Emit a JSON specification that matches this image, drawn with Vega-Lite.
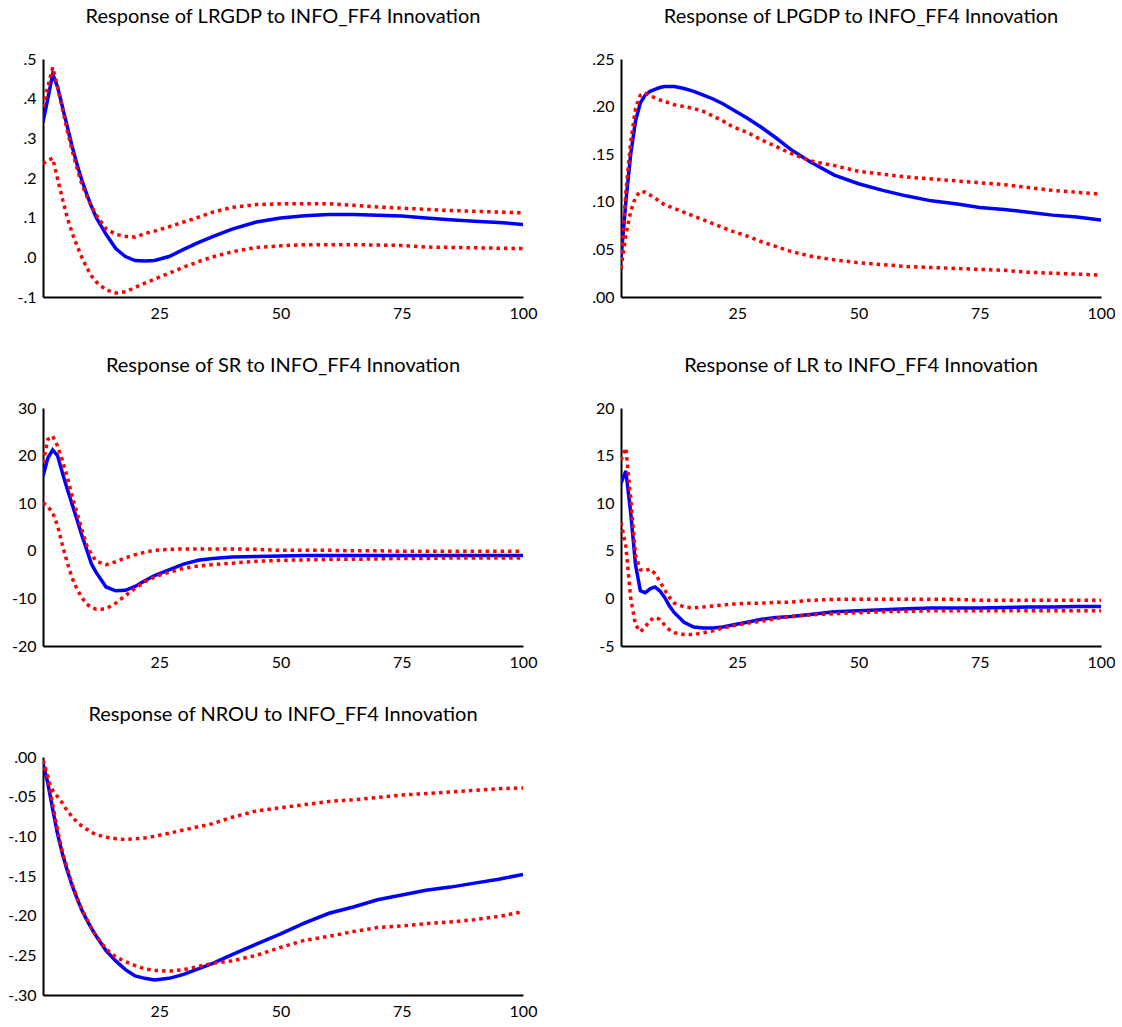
{
"$schema": "https://vega.github.io/schema/vega-lite/v6.json",
"padding": {"left": 7, "top": 7, "right": 0, "bottom": 0},
"background": "white",
"datasets": {
"lrgdp": [
{"t":1,"m":0.341,"hi":0.379,"lo":0.236},{"t":2,"m":0.40,"hi":0.43,"lo":0.245},{"t":3,"m":0.462,"hi":0.479,"lo":0.25},{"t":4,"m":0.43,"hi":0.43,"lo":0.198},{"t":5,"m":0.38,"hi":0.375,"lo":0.148},{"t":6,"m":0.33,"hi":0.32,"lo":0.10},{"t":7,"m":0.28,"hi":0.27,"lo":0.062},{"t":8,"m":0.235,"hi":0.225,"lo":0.03},{"t":9,"m":0.195,"hi":0.185,"lo":0.0},{"t":10,"m":0.16,"hi":0.155,"lo":-0.025},{"t":11,"m":0.128,"hi":0.128,"lo":-0.047},{"t":12,"m":0.10,"hi":0.106,"lo":-0.062},{"t":14,"m":0.058,"hi":0.072,"lo":-0.082},{"t":16,"m":0.022,"hi":0.058,"lo":-0.09},{"t":18,"m":0.002,"hi":0.053,"lo":-0.087},{"t":20,"m":-0.008,"hi":0.051,"lo":-0.076},{"t":22,"m":-0.009,"hi":0.06,"lo":-0.065},{"t":24,"m":-0.008,"hi":0.066,"lo":-0.055},{"t":27,"m":0.002,"hi":0.077,"lo":-0.04},{"t":30,"m":0.02,"hi":0.089,"lo":-0.025},{"t":33,"m":0.037,"hi":0.101,"lo":-0.011},{"t":36,"m":0.052,"hi":0.114,"lo":0.001},{"t":40,"m":0.071,"hi":0.126,"lo":0.014},{"t":45,"m":0.089,"hi":0.133,"lo":0.025},{"t":50,"m":0.099,"hi":0.135,"lo":0.029},{"t":55,"m":0.105,"hi":0.135,"lo":0.032},{"t":60,"m":0.108,"hi":0.135,"lo":0.032},{"t":65,"m":0.108,"hi":0.131,"lo":0.032},{"t":70,"m":0.106,"hi":0.127,"lo":0.031},{"t":75,"m":0.104,"hi":0.124,"lo":0.03},{"t":80,"m":0.099,"hi":0.121,"lo":0.026},{"t":85,"m":0.095,"hi":0.118,"lo":0.025},{"t":90,"m":0.091,"hi":0.116,"lo":0.024},{"t":95,"m":0.088,"hi":0.114,"lo":0.023},{"t":100,"m":0.083,"hi":0.112,"lo":0.022}
],
"lpgdp": [
{"t":1,"m":0.04,"hi":0.03,"lo":0.03},{"t":2,"m":0.10,"hi":0.11,"lo":0.065},{"t":3,"m":0.15,"hi":0.163,"lo":0.09},{"t":4,"m":0.185,"hi":0.198,"lo":0.105},{"t":5,"m":0.204,"hi":0.212,"lo":0.111},{"t":6,"m":0.212,"hi":0.214,"lo":0.11},{"t":7,"m":0.216,"hi":0.212,"lo":0.107},{"t":8,"m":0.218,"hi":0.209,"lo":0.104},{"t":9,"m":0.22,"hi":0.207,"lo":0.10},{"t":10,"m":0.221,"hi":0.205,"lo":0.097},{"t":11,"m":0.221,"hi":0.204,"lo":0.095},{"t":12,"m":0.221,"hi":0.202,"lo":0.093},{"t":14,"m":0.219,"hi":0.20,"lo":0.089},{"t":16,"m":0.216,"hi":0.198,"lo":0.085},{"t":18,"m":0.212,"hi":0.195,"lo":0.081},{"t":20,"m":0.208,"hi":0.19,"lo":0.077},{"t":22,"m":0.203,"hi":0.185,"lo":0.073},{"t":24,"m":0.197,"hi":0.179,"lo":0.069},{"t":27,"m":0.188,"hi":0.173,"lo":0.064},{"t":30,"m":0.178,"hi":0.165,"lo":0.058},{"t":33,"m":0.167,"hi":0.158,"lo":0.053},{"t":36,"m":0.155,"hi":0.151,"lo":0.048},{"t":40,"m":0.142,"hi":0.143,"lo":0.043},{"t":45,"m":0.128,"hi":0.138,"lo":0.039},{"t":50,"m":0.119,"hi":0.132,"lo":0.036},{"t":55,"m":0.112,"hi":0.129,"lo":0.034},{"t":60,"m":0.106,"hi":0.126,"lo":0.032},{"t":65,"m":0.101,"hi":0.124,"lo":0.031},{"t":70,"m":0.098,"hi":0.122,"lo":0.03},{"t":75,"m":0.094,"hi":0.12,"lo":0.029},{"t":80,"m":0.092,"hi":0.118,"lo":0.028},{"t":85,"m":0.089,"hi":0.115,"lo":0.026},{"t":90,"m":0.086,"hi":0.112,"lo":0.025},{"t":95,"m":0.084,"hi":0.11,"lo":0.024},{"t":100,"m":0.081,"hi":0.108,"lo":0.023}
],
"sr": [
{"t":1,"m":15.7,"hi":18.5,"lo":10.1},{"t":2,"m":19.5,"hi":23.4,"lo":9.3},{"t":3,"m":21.2,"hi":24.1,"lo":8.0},{"t":4,"m":20.0,"hi":22.0,"lo":5.3},{"t":5,"m":16.4,"hi":19.0,"lo":1.2},{"t":6,"m":13.0,"hi":15.5,"lo":-2.5},{"t":7,"m":9.8,"hi":11.5,"lo":-5.7},{"t":8,"m":6.6,"hi":8.0,"lo":-8.0},{"t":9,"m":3.3,"hi":4.5,"lo":-9.8},{"t":10,"m":0.3,"hi":1.2,"lo":-11.2},{"t":11,"m":-2.8,"hi":-0.8,"lo":-11.9},{"t":12,"m":-4.6,"hi":-2.2,"lo":-12.3},{"t":14,"m":-7.6,"hi":-2.9,"lo":-12.2},{"t":16,"m":-8.4,"hi":-2.3,"lo":-11.0},{"t":18,"m":-8.3,"hi":-1.5,"lo":-9.4},{"t":20,"m":-7.5,"hi":-0.8,"lo":-7.9},{"t":22,"m":-6.3,"hi":-0.3,"lo":-6.5},{"t":24,"m":-5.2,"hi":0.1,"lo":-5.5},{"t":27,"m":-4.0,"hi":0.3,"lo":-4.5},{"t":30,"m":-2.8,"hi":0.4,"lo":-3.7},{"t":33,"m":-2.0,"hi":0.4,"lo":-3.2},{"t":36,"m":-1.6,"hi":0.4,"lo":-2.9},{"t":40,"m":-1.3,"hi":0.4,"lo":-2.6},{"t":45,"m":-1.2,"hi":0.3,"lo":-2.2},{"t":50,"m":-1.1,"hi":0.1,"lo":-2.0},{"t":55,"m":-1.0,"hi":0.1,"lo":-1.9},{"t":60,"m":-1.0,"hi":0.1,"lo":-1.8},{"t":65,"m":-1.0,"hi":0.0,"lo":-1.8},{"t":70,"m":-1.0,"hi":0.0,"lo":-1.7},{"t":75,"m":-1.0,"hi":-0.1,"lo":-1.6},{"t":80,"m":-1.0,"hi":-0.1,"lo":-1.6},{"t":85,"m":-1.0,"hi":-0.1,"lo":-1.5},{"t":90,"m":-1.0,"hi":-0.1,"lo":-1.5},{"t":95,"m":-1.0,"hi":-0.1,"lo":-1.5},{"t":100,"m":-1.0,"hi":-0.1,"lo":-1.5}
],
"lr": [
{"t":1,"m":12.1,"hi":14.5,"lo":8.0},{"t":2,"m":13.4,"hi":15.8,"lo":5.5},{"t":3,"m":9.0,"hi":10.5,"lo":0.0},{"t":4,"m":3.5,"hi":4.5,"lo":-2.8},{"t":5,"m":0.8,"hi":3.0,"lo":-3.5},{"t":6,"m":0.6,"hi":2.9,"lo":-3.0},{"t":7,"m":1.0,"hi":3.1,"lo":-2.3},{"t":8,"m":1.2,"hi":2.6,"lo":-2.0},{"t":9,"m":0.8,"hi":1.8,"lo":-2.2},{"t":10,"m":0.1,"hi":0.9,"lo":-2.8},{"t":11,"m":-0.8,"hi":0.1,"lo":-3.3},{"t":12,"m":-1.5,"hi":-0.5,"lo":-3.6},{"t":14,"m":-2.5,"hi":-0.9,"lo":-3.8},{"t":16,"m":-3.0,"hi":-1.0,"lo":-3.8},{"t":18,"m":-3.1,"hi":-0.9,"lo":-3.6},{"t":20,"m":-3.1,"hi":-0.8,"lo":-3.4},{"t":22,"m":-3.0,"hi":-0.7,"lo":-3.1},{"t":24,"m":-2.8,"hi":-0.6,"lo":-2.9},{"t":27,"m":-2.5,"hi":-0.5,"lo":-2.6},{"t":30,"m":-2.2,"hi":-0.5,"lo":-2.4},{"t":33,"m":-2.0,"hi":-0.4,"lo":-2.1},{"t":36,"m":-1.9,"hi":-0.4,"lo":-1.9},{"t":40,"m":-1.7,"hi":-0.2,"lo":-1.75},{"t":45,"m":-1.4,"hi":-0.1,"lo":-1.6},{"t":50,"m":-1.3,"hi":-0.1,"lo":-1.5},{"t":55,"m":-1.2,"hi":-0.1,"lo":-1.4},{"t":60,"m":-1.1,"hi":-0.1,"lo":-1.35},{"t":65,"m":-1.0,"hi":-0.1,"lo":-1.3},{"t":70,"m":-1.0,"hi":-0.1,"lo":-1.3},{"t":75,"m":-1.0,"hi":-0.2,"lo":-1.3},{"t":80,"m":-0.95,"hi":-0.2,"lo":-1.3},{"t":85,"m":-0.9,"hi":-0.2,"lo":-1.3},{"t":90,"m":-0.9,"hi":-0.2,"lo":-1.3},{"t":95,"m":-0.85,"hi":-0.2,"lo":-1.3},{"t":100,"m":-0.85,"hi":-0.2,"lo":-1.3}
],
"nrou": [
{"t":1,"m":-0.008,"hi":-0.004,"lo":-0.004},{"t":2,"m":-0.033,"hi":-0.028,"lo":-0.025},{"t":3,"m":-0.066,"hi":-0.042,"lo":-0.06},{"t":4,"m":-0.097,"hi":-0.05,"lo":-0.092},{"t":5,"m":-0.122,"hi":-0.058,"lo":-0.12},{"t":6,"m":-0.143,"hi":-0.068,"lo":-0.14},{"t":7,"m":-0.162,"hi":-0.075,"lo":-0.16},{"t":8,"m":-0.178,"hi":-0.082,"lo":-0.177},{"t":9,"m":-0.193,"hi":-0.087,"lo":-0.192},{"t":10,"m":-0.205,"hi":-0.091,"lo":-0.204},{"t":11,"m":-0.216,"hi":-0.095,"lo":-0.216},{"t":12,"m":-0.226,"hi":-0.098,"lo":-0.226},{"t":14,"m":-0.244,"hi":-0.101,"lo":-0.242},{"t":16,"m":-0.257,"hi":-0.103,"lo":-0.252},{"t":18,"m":-0.268,"hi":-0.104,"lo":-0.258},{"t":20,"m":-0.276,"hi":-0.103,"lo":-0.263},{"t":22,"m":-0.279,"hi":-0.102,"lo":-0.267},{"t":24,"m":-0.281,"hi":-0.10,"lo":-0.269},{"t":27,"m":-0.279,"hi":-0.096,"lo":-0.27},{"t":30,"m":-0.274,"hi":-0.092,"lo":-0.268},{"t":33,"m":-0.267,"hi":-0.088,"lo":-0.264},{"t":36,"m":-0.26,"hi":-0.084,"lo":-0.26},{"t":40,"m":-0.249,"hi":-0.076,"lo":-0.257},{"t":45,"m":-0.236,"hi":-0.068,"lo":-0.25},{"t":50,"m":-0.223,"hi":-0.064,"lo":-0.24},{"t":55,"m":-0.209,"hi":-0.06,"lo":-0.231},{"t":60,"m":-0.197,"hi":-0.056,"lo":-0.226},{"t":65,"m":-0.189,"hi":-0.054,"lo":-0.22},{"t":70,"m":-0.18,"hi":-0.051,"lo":-0.215},{"t":75,"m":-0.174,"hi":-0.048,"lo":-0.213},{"t":80,"m":-0.168,"hi":-0.046,"lo":-0.21},{"t":85,"m":-0.164,"hi":-0.044,"lo":-0.208},{"t":90,"m":-0.159,"hi":-0.042,"lo":-0.205},{"t":95,"m":-0.154,"hi":-0.04,"lo":-0.201},{"t":100,"m":-0.148,"hi":-0.039,"lo":-0.195}
]
},
"columns": 2,
"bounds": "flush",
"spacing": {"row": 111, "column": 98},
"concat": [
{
"title": "Response of LRGDP to INFO_FF4 Innovation",
"width": 480, "height": 238,
"data": {"name": "lrgdp"},
"encoding": {"x": {"field": "t", "type": "quantitative", "title": null, "scale": {"domain": [1, 100], "nice": false, "zero": false}, "axis": {"values": [25, 50, 75, 100], "tickCount": 20, "labelFlush": false, "labelOverlap": false}}},
"layer": [
{"data": {"values": [{}]}, "mark": {"type": "rule", "color": "#222222", "strokeWidth": 1}, "encoding": {"x": {"datum": 1}, "x2": {"datum": 100}, "y": {"datum": 0}}},
{"mark": {"type": "line", "color": "#0000FF", "strokeWidth": 3.5, "clip": true}, "encoding": {"y": {"field": "m", "type": "quantitative", "title": null, "scale": {"domain": [-0.1, 0.5], "nice": false, "zero": false}, "axis": {"values": [-0.1, 0, 0.1, 0.2, 0.3, 0.4, 0.5], "tickCount": 20, "labelOverlap": false, "labelExpr": "replace(replace(format(datum.value, '.1f'), '\u2212', '-'), '0.', '.')"}}}},
{"mark": {"type": "line", "color": "#FF0000", "strokeWidth": 3.5, "strokeDash": [3.5, 4], "clip": true}, "encoding": {"y": {"field": "lo", "type": "quantitative", "title": null}}},
{"mark": {"type": "line", "color": "#FF0000", "strokeWidth": 3.5, "strokeDash": [3.5, 4], "clip": true}, "encoding": {"y": {"field": "hi", "type": "quantitative", "title": null}}}
]
},
{
"title": "Response of LPGDP to INFO_FF4 Innovation",
"width": 480, "height": 238,
"data": {"name": "lpgdp"},
"encoding": {"x": {"field": "t", "type": "quantitative", "title": null, "scale": {"domain": [1, 100], "nice": false, "zero": false}, "axis": {"values": [25, 50, 75, 100], "tickCount": 20, "labelFlush": false, "labelOverlap": false}}},
"layer": [
{"mark": {"type": "line", "color": "#0000FF", "strokeWidth": 3.5, "clip": true}, "encoding": {"y": {"field": "m", "type": "quantitative", "title": null, "scale": {"domain": [0, 0.25], "nice": false, "zero": false}, "axis": {"values": [0, 0.05, 0.1, 0.15, 0.2, 0.25], "tickCount": 20, "labelOverlap": false, "labelExpr": "replace(replace(format(datum.value, '.2f'), '\u2212', '-'), '0.', '.')"}}}},
{"mark": {"type": "line", "color": "#FF0000", "strokeWidth": 3.5, "strokeDash": [3.5, 4], "clip": true}, "encoding": {"y": {"field": "lo", "type": "quantitative", "title": null}}},
{"mark": {"type": "line", "color": "#FF0000", "strokeWidth": 3.5, "strokeDash": [3.5, 4], "clip": true}, "encoding": {"y": {"field": "hi", "type": "quantitative", "title": null}}}
]
},
{
"title": "Response of SR to INFO_FF4 Innovation",
"width": 480, "height": 238,
"data": {"name": "sr"},
"encoding": {"x": {"field": "t", "type": "quantitative", "title": null, "scale": {"domain": [1, 100], "nice": false, "zero": false}, "axis": {"values": [25, 50, 75, 100], "tickCount": 20, "labelFlush": false, "labelOverlap": false}}},
"layer": [
{"data": {"values": [{}]}, "mark": {"type": "rule", "color": "#222222", "strokeWidth": 1}, "encoding": {"x": {"datum": 1}, "x2": {"datum": 100}, "y": {"datum": 0}}},
{"mark": {"type": "line", "color": "#0000FF", "strokeWidth": 3.5, "clip": true}, "encoding": {"y": {"field": "m", "type": "quantitative", "title": null, "scale": {"domain": [-20, 30], "nice": false, "zero": false}, "axis": {"values": [-20, -10, 0, 10, 20, 30], "tickCount": 20, "labelOverlap": false, "labelExpr": "replace(format(datum.value, 'd'), '\u2212', '-')"}}}},
{"mark": {"type": "line", "color": "#FF0000", "strokeWidth": 3.5, "strokeDash": [3.5, 4], "clip": true}, "encoding": {"y": {"field": "lo", "type": "quantitative", "title": null}}},
{"mark": {"type": "line", "color": "#FF0000", "strokeWidth": 3.5, "strokeDash": [3.5, 4], "clip": true}, "encoding": {"y": {"field": "hi", "type": "quantitative", "title": null}}}
]
},
{
"title": "Response of LR to INFO_FF4 Innovation",
"width": 480, "height": 238,
"data": {"name": "lr"},
"encoding": {"x": {"field": "t", "type": "quantitative", "title": null, "scale": {"domain": [1, 100], "nice": false, "zero": false}, "axis": {"values": [25, 50, 75, 100], "tickCount": 20, "labelFlush": false, "labelOverlap": false}}},
"layer": [
{"data": {"values": [{}]}, "mark": {"type": "rule", "color": "#222222", "strokeWidth": 1}, "encoding": {"x": {"datum": 1}, "x2": {"datum": 100}, "y": {"datum": 0}}},
{"mark": {"type": "line", "color": "#0000FF", "strokeWidth": 3.5, "clip": true}, "encoding": {"y": {"field": "m", "type": "quantitative", "title": null, "scale": {"domain": [-5, 20], "nice": false, "zero": false}, "axis": {"values": [-5, 0, 5, 10, 15, 20], "tickCount": 20, "labelOverlap": false, "labelExpr": "replace(format(datum.value, 'd'), '\u2212', '-')"}}}},
{"mark": {"type": "line", "color": "#FF0000", "strokeWidth": 3.5, "strokeDash": [3.5, 4], "clip": true}, "encoding": {"y": {"field": "lo", "type": "quantitative", "title": null}}},
{"mark": {"type": "line", "color": "#FF0000", "strokeWidth": 3.5, "strokeDash": [3.5, 4], "clip": true}, "encoding": {"y": {"field": "hi", "type": "quantitative", "title": null}}}
]
},
{
"title": "Response of NROU to INFO_FF4 Innovation",
"width": 480, "height": 238,
"data": {"name": "nrou"},
"encoding": {"x": {"field": "t", "type": "quantitative", "title": null, "scale": {"domain": [1, 100], "nice": false, "zero": false}, "axis": {"values": [25, 50, 75, 100], "tickCount": 20, "labelFlush": false, "labelOverlap": false}}},
"layer": [
{"mark": {"type": "line", "color": "#0000FF", "strokeWidth": 3.5, "clip": true}, "encoding": {"y": {"field": "m", "type": "quantitative", "title": null, "scale": {"domain": [-0.3, 0], "nice": false, "zero": false}, "axis": {"values": [-0.3, -0.25, -0.2, -0.15, -0.1, -0.05, 0], "tickCount": 20, "labelOverlap": false, "labelExpr": "replace(replace(format(datum.value, '.2f'), '\u2212', '-'), '0.', '.')"}}}},
{"mark": {"type": "line", "color": "#FF0000", "strokeWidth": 3.5, "strokeDash": [3.5, 4], "clip": true}, "encoding": {"y": {"field": "lo", "type": "quantitative", "title": null}}},
{"mark": {"type": "line", "color": "#FF0000", "strokeWidth": 3.5, "strokeDash": [3.5, 4], "clip": true}, "encoding": {"y": {"field": "hi", "type": "quantitative", "title": null}}}
]
}
],
"config": {
"view": {"stroke": null},
"font": "Lato",
"axis": {"domainColor": "black", "domainWidth": 2, "ticks": false, "grid": false, "labelFont": "Lato", "labelFontSize": 16, "labelColor": "black", "labelPadding": 7, "labelOverlap": false},
"axisX": {"labelFlush": false, "labelPadding": 8},
"title": {"font": "Lato", "fontSize": 20, "fontWeight": "normal", "color": "black", "frame": "group", "anchor": "middle", "offset": 24}
}
}
